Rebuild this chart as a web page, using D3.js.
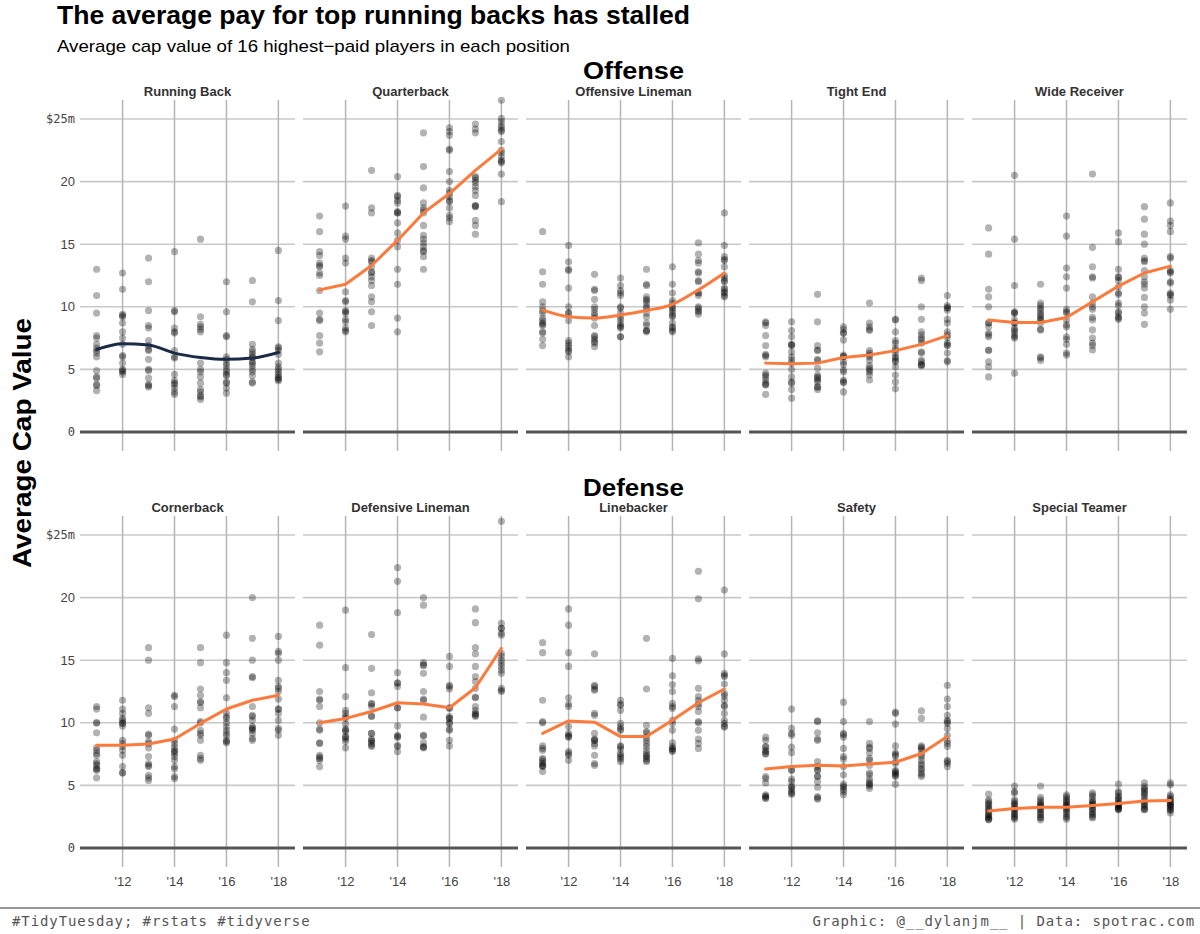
<!DOCTYPE html>
<html>
    <head>
        <title>NFL cap value</title>
        <script src="https://d3js.org/d3.v7.min.js"></script>
        <style>
            body { margin: 0; background: #fff; }
        </style>
    </head>
    <body>
        <div id="chart"></div>

        <script>
            // Data: 16 cap values ($m) per year, 2011-2018
            const years = [2011, 2012, 2013, 2014, 2015, 2016, 2017, 2018];
            const yTicks = [0, 5, 10, 15, 20, 25];
            const xTicks = [2012, 2014, 2016, 2018];
            const offense = ["Running Back", "Quarterback", "Offensive Lineman", "Tight End", "Wide Receiver"];
            const defense = ["Cornerback", "Defensive Lineman", "Linebacker", "Safety", "Special Teamer"];

            const runningBack = [
                [13.0, 10.9, 9.5, 7.7, 7.5, 7.0, 6.7, 6.3, 6.0, 4.9, 4.4, 4.3, 3.8, 3.7, 3.3, 6.5],
                [12.7, 11.4, 9.4, 9.2, 8.7, 8.0, 7.5, 7.0, 6.1, 6.0, 5.5, 5.0, 4.9, 4.6, 4.8, 9.3],
                [13.9, 12.0, 9.7, 8.5, 8.3, 7.3, 6.9, 6.5, 5.8, 5.0, 4.9, 4.3, 3.8, 3.7, 3.6, 6.6],
                [14.4, 9.7, 9.6, 8.3, 8.0, 7.9, 6.5, 6.0, 5.9, 4.6, 4.1, 3.9, 3.8, 3.5, 3.2, 3.0],
                [15.4, 9.2, 8.6, 8.4, 8.2, 8.0, 5.5, 5.0, 4.4, 3.9, 3.4, 3.2, 2.9, 2.8, 2.6, 4.8],
                [12.0, 9.6, 7.7, 7.6, 6.0, 5.8, 5.5, 5.3, 5.0, 4.8, 4.6, 4.5, 4.0, 3.9, 3.5, 3.1],
                [12.1, 10.4, 7.0, 6.6, 6.4, 6.0, 5.6, 5.3, 5.0, 4.8, 4.5, 4.0, 3.9, 5.9, 6.2, 5.5],
                [14.5, 10.5, 8.9, 6.8, 6.7, 6.2, 5.5, 5.2, 5.0, 4.8, 4.6, 4.4, 4.3, 4.2, 4.1, 6.5]
            ];
            const quarterback = [
                [17.25, 16.0, 14.4, 14.1, 13.5, 13.3, 12.7, 12.5, 11.3, 9.5, 9.0, 8.9, 7.7, 7.1, 6.4, 13.2],
                [18.05, 15.65, 15.4, 13.9, 13.5, 11.2, 10.5, 10.4, 9.6, 9.5, 9.0, 8.8, 8.3, 8.0, 8.1, 9.7],
                [20.9, 17.9, 17.5, 13.9, 13.6, 12.8, 12.4, 12.1, 11.7, 10.8, 10.4, 9.6, 8.5, 13.7, 12.7, 13.2],
                [20.4, 18.9, 18.5, 17.6, 17.5, 16.7, 15.9, 14.8, 13.0, 11.8, 9.1, 8.0, 18.3, 18.8, 15.3, 17.5],
                [23.9, 21.2, 19.5, 18.3, 17.7, 16.5, 15.7, 15.4, 15.1, 14.5, 14.0, 13.0, 17.5, 17.9, 14.8, 14.4],
                [24.3, 24.0, 23.7, 22.6, 20.8, 20.0, 19.3, 18.8, 18.4, 17.9, 17.3, 17.1, 16.8, 22.5, 19.1, 18.5],
                [24.6, 24.2, 23.9, 20.4, 20.3, 19.6, 19.3, 18.9, 18.1, 18.0, 16.9, 16.5, 15.8, 20.1, 19.9, 18.05],
                [26.5, 25.05, 24.8, 24.3, 24.0, 23.2, 22.5, 22.0, 21.7, 21.5, 20.6, 18.4, 24.5, 24.1, 22.3, 21.6]
            ];
            const offensiveLineman = [
                [16.0, 12.8, 11.8, 10.4, 10.0, 9.5, 9.1, 8.7, 8.5, 8.0, 7.4, 6.9, 9.7, 8.9, 8.6, 7.9],
                [14.9, 13.6, 12.9, 11.5, 10.0, 9.5, 8.9, 7.3, 6.9, 6.7, 6.4, 6.0, 13.0, 9.5, 7.1, 6.5],
                [12.6, 11.4, 10.6, 10.0, 9.8, 9.3, 8.5, 7.7, 7.4, 7.1, 6.8, 11.3, 9.5, 7.6, 7.2, 9.1],
                [12.3, 11.7, 11.1, 10.0, 9.5, 9.0, 8.5, 8.4, 7.6, 11.3, 10.9, 9.2, 8.7, 8.3, 7.6, 9.9],
                [13.0, 11.8, 11.7, 10.8, 10.5, 9.9, 9.2, 8.7, 8.1, 8.0, 10.3, 9.5, 8.5, 8.1, 10.0, 10.6],
                [13.2, 11.8, 11.1, 10.5, 10.0, 9.7, 9.5, 9.2, 8.7, 8.4, 8.0, 10.3, 9.9, 9.3, 8.3, 8.1],
                [15.1, 14.2, 13.7, 13.5, 12.8, 12.1, 11.1, 10.9, 10.0, 9.7, 9.4, 11.1, 12.0, 9.9, 9.6, 12.7],
                [17.5, 14.9, 14.0, 13.8, 13.2, 12.5, 12.3, 12.0, 11.5, 11.2, 10.9, 10.8, 11.4, 12.1, 13.7, 11.1]
            ];
            const tightEnd = [
                [8.8, 8.5, 7.7, 6.9, 6.1, 6.0, 4.7, 4.4, 3.8, 3.0, 3.9, 8.7, 6.2, 4.55, 4.15, 3.75],
                [8.8, 8.1, 7.6, 7.0, 6.9, 6.4, 6.0, 5.5, 5.0, 4.4, 4.0, 3.9, 3.4, 2.7, 6.95, 5.75],
                [11.0, 8.8, 6.9, 6.5, 5.8, 5.7, 5.1, 4.55, 4.4, 4.0, 3.6, 3.4, 3.6, 4.15, 6.55, 4.3],
                [8.4, 8.2, 7.9, 7.35, 6.15, 6.0, 5.4, 4.95, 4.15, 3.95, 3.2, 6.05, 7.9, 4.0, 4.8, 5.6],
                [10.3, 8.7, 8.4, 8.1, 6.5, 6.3, 6.0, 5.7, 5.3, 4.95, 4.55, 4.15, 6.15, 5.1, 4.8, 8.2],
                [9.0, 8.0, 7.3, 6.7, 6.3, 6.0, 5.7, 5.2, 4.55, 4.0, 3.45, 8.95, 6.55, 5.9, 5.6, 7.1],
                [12.3, 12.1, 10.0, 9.0, 8.0, 7.5, 7.1, 6.4, 5.75, 5.4, 5.35, 5.3, 6.3, 5.6, 7.35, 7.75],
                [10.9, 10.1, 9.95, 9.75, 9.0, 8.0, 7.55, 7.1, 6.9, 6.3, 5.7, 5.6, 9.9, 6.95, 7.75, 8.7]
            ];
            const wideReceiver = [
                [16.3, 14.2, 11.4, 10.8, 10.0, 8.7, 8.4, 7.9, 7.6, 6.5, 5.6, 5.2, 4.4, 7.75, 8.7, 6.55],
                [20.5, 15.4, 11.7, 9.6, 9.5, 8.7, 8.15, 7.6, 4.7, 9.5, 8.3, 7.5, 8.95, 8.7, 8.0, 7.75],
                [11.8, 10.3, 9.9, 9.5, 9.2, 9.0, 8.7, 8.2, 6.0, 5.7, 9.75, 8.95, 9.35, 5.9, 8.15, 10.1],
                [17.25, 15.65, 13.1, 12.4, 11.5, 9.8, 9.5, 8.95, 8.4, 7.6, 7.4, 7.0, 6.3, 6.15, 9.6, 8.55],
                [20.6, 14.75, 13.2, 12.4, 12.3, 10.8, 10.0, 9.8, 9.15, 8.15, 7.5, 7.1, 6.9, 6.55, 8.95, 10.3],
                [15.9, 15.2, 13.0, 12.35, 12.1, 11.6, 11.1, 10.3, 9.6, 9.2, 9.0, 12.4, 11.0, 10.1, 9.1, 9.5],
                [18.0, 17.0, 15.8, 15.0, 13.9, 13.6, 12.9, 12.0, 11.5, 10.75, 10.0, 9.5, 8.6, 13.7, 11.8, 12.4],
                [18.3, 16.85, 16.5, 16.0, 14.0, 13.9, 12.9, 12.7, 12.0, 11.9, 11.1, 10.9, 10.55, 9.8, 12.8, 11.0]
            ];
            const cornerback = [
                [11.3, 11.1, 10.0, 9.2, 8.0, 7.4, 6.9, 6.6, 6.3, 6.2, 5.6, 10.0, 7.55, 6.75, 6.35, 7.8],
                [11.8, 11.1, 10.75, 10.2, 10.0, 9.75, 8.6, 8.1, 7.4, 6.5, 6.0, 6.0, 9.95, 8.35, 7.8, 10.35],
                [16.0, 15.0, 11.2, 10.75, 9.1, 8.5, 8.0, 7.3, 6.6, 6.5, 5.8, 5.4, 5.6, 8.35, 6.75, 9.0],
                [12.2, 11.3, 9.5, 8.6, 8.35, 8.05, 7.55, 7.0, 6.5, 6.3, 5.7, 5.55, 12.1, 7.8, 7.3, 7.7],
                [16.0, 14.8, 12.7, 12.2, 11.7, 11.2, 10.0, 9.4, 9.0, 8.6, 7.4, 7.0, 11.6, 10.1, 9.15, 7.15],
                [17.0, 14.8, 14.0, 13.4, 12.0, 10.8, 10.5, 10.0, 9.7, 9.4, 8.95, 8.6, 8.4, 10.35, 9.15, 8.5],
                [20.0, 16.75, 15.0, 13.7, 13.6, 11.3, 10.6, 10.2, 9.7, 9.5, 9.15, 8.75, 8.6, 9.4, 10.5, 9.6],
                [16.9, 15.7, 15.55, 15.0, 13.4, 12.9, 12.5, 11.9, 11.1, 10.75, 10.2, 9.55, 9.0, 11.1, 9.4, 12.75]
            ];
            const defensiveLineman = [
                [17.8, 16.2, 12.5, 11.9, 11.3, 10.0, 9.5, 8.4, 7.4, 7.15, 7.0, 6.5, 11.8, 8.35, 7.25, 9.4],
                [19.0, 14.4, 12.1, 11.0, 10.75, 10.35, 9.9, 9.5, 9.3, 8.9, 8.7, 8.0, 9.4, 8.85, 8.5, 10.5],
                [17.05, 14.35, 12.4, 11.55, 11.3, 10.55, 9.15, 8.7, 8.6, 8.35, 8.1, 11.5, 10.5, 8.5, 8.2, 9.15],
                [22.4, 21.3, 18.8, 14.0, 13.2, 12.9, 11.2, 9.75, 9.0, 8.85, 8.2, 7.7, 8.9, 11.2, 13.15, 8.1],
                [20.0, 19.4, 14.8, 14.6, 13.95, 12.5, 11.9, 10.45, 9.0, 8.4, 8.05, 8.0, 8.95, 11.8, 14.6, 8.1],
                [15.3, 14.5, 13.0, 12.7, 11.2, 10.5, 10.0, 9.5, 8.6, 8.15, 9.95, 12.9, 10.35, 9.4, 10.35, 11.15],
                [19.1, 18.0, 16.0, 15.5, 14.5, 13.7, 12.75, 12.0, 11.3, 11.0, 10.75, 10.6, 10.5, 13.3, 12.05, 10.7],
                [26.1, 17.95, 17.55, 17.15, 17.0, 15.55, 15.0, 14.5, 13.95, 12.75, 12.5, 17.55, 15.3, 14.75, 14.2, 12.6]
            ];
            const linebacker = [
                [16.4, 15.6, 11.8, 10.0, 8.15, 7.8, 7.15, 6.9, 6.6, 6.5, 6.1, 10.1, 7.95, 7.05, 6.55, 6.75],
                [19.1, 17.8, 15.6, 14.5, 12.0, 11.5, 9.7, 9.0, 8.85, 7.7, 7.4, 7.0, 11.3, 7.55, 8.9, 9.15],
                [15.5, 13.0, 12.7, 10.75, 10.6, 9.15, 8.7, 8.6, 8.15, 7.4, 6.75, 6.6, 12.9, 8.6, 8.35, 12.6],
                [11.8, 11.5, 11.0, 9.7, 9.5, 8.15, 7.9, 7.4, 7.25, 6.9, 9.95, 7.55, 7.1, 9.4, 8.1, 11.4],
                [16.75, 12.7, 9.8, 9.2, 8.85, 8.6, 8.1, 7.8, 7.55, 7.3, 7.0, 6.9, 8.35, 7.4, 7.15, 9.3],
                [15.15, 13.75, 13.05, 12.5, 11.55, 11.15, 10.2, 9.95, 8.4, 8.1, 7.9, 7.8, 11.3, 9.4, 7.95, 7.7],
                [22.1, 19.9, 15.1, 14.95, 12.75, 12.1, 11.5, 10.9, 10.1, 9.4, 8.7, 7.95, 10.0, 11.8, 11.3, 8.35],
                [20.6, 15.5, 13.95, 13.7, 13.1, 12.35, 12.15, 11.4, 10.75, 10.2, 9.75, 9.65, 13.8, 11.8, 11.3, 9.95]
            ];
            const safety = [
                [8.85, 8.1, 7.7, 7.5, 5.7, 5.2, 4.25, 3.95, 4.1, 7.8, 7.55, 8.6, 5.55, 4.15, 8.05, 4.0],
                [11.1, 9.55, 9.0, 8.05, 7.6, 6.25, 5.5, 4.95, 4.7, 4.3, 4.5, 9.15, 6.2, 5.3, 4.85, 4.35],
                [10.15, 9.2, 8.7, 6.9, 6.2, 5.75, 5.3, 4.85, 4.1, 3.9, 10.1, 8.6, 5.7, 4.0, 6.5, 6.25],
                [11.65, 10.1, 9.15, 8.85, 7.95, 7.3, 7.1, 6.5, 5.85, 5.1, 4.85, 4.5, 4.25, 4.95, 4.65, 9.05],
                [10.1, 8.35, 8.05, 7.6, 7.15, 6.6, 6.0, 5.5, 5.15, 4.95, 4.75, 7.95, 7.0, 5.85, 5.3, 5.05],
                [10.85, 9.9, 8.15, 7.6, 7.35, 6.9, 6.2, 6.0, 5.9, 5.7, 5.1, 10.75, 7.45, 6.1, 5.8, 6.75],
                [10.95, 10.35, 8.15, 8.05, 7.8, 7.45, 7.0, 6.6, 6.35, 6.0, 5.7, 7.95, 7.3, 6.75, 6.25, 5.85],
                [13.0, 11.9, 11.3, 10.6, 10.2, 9.95, 9.55, 9.0, 8.35, 8.1, 7.0, 6.75, 6.5, 10.1, 8.55, 6.9]
            ];
            const specialTeamer = [
                [4.3, 3.7, 3.45, 3.15, 2.9, 2.65, 2.45, 2.25, 3.55, 3.3, 3.05, 2.75, 2.55, 2.35, 3.85, 2.3],
                [4.95, 4.5, 3.85, 3.55, 3.35, 3.05, 2.75, 2.5, 2.3, 3.7, 3.45, 3.15, 2.9, 2.65, 2.4, 4.4],
                [4.95, 4.05, 3.7, 3.45, 3.15, 2.9, 2.65, 2.45, 2.25, 3.85, 3.55, 3.3, 3.05, 2.75, 2.4, 3.35],
                [4.25, 3.95, 3.8, 3.55, 3.35, 3.15, 2.9, 2.55, 2.3, 4.1, 3.7, 3.45, 3.3, 3.05, 2.75, 2.45],
                [4.4, 4.1, 3.85, 3.6, 3.45, 3.15, 2.9, 2.65, 2.4, 4.25, 3.7, 3.5, 3.3, 3.05, 2.75, 2.5],
                [5.1, 4.5, 4.15, 3.9, 3.6, 3.45, 3.3, 3.15, 3.05, 4.4, 4.05, 3.8, 3.55, 3.35, 3.2, 3.1],
                [5.2, 4.9, 4.65, 4.35, 4.05, 3.85, 3.55, 3.35, 3.15, 3.05, 4.75, 4.5, 4.25, 3.7, 3.45, 3.1],
                [5.2, 5.05, 4.25, 3.95, 3.7, 3.5, 3.35, 3.15, 3.0, 2.8, 4.1, 3.85, 3.6, 3.45, 3.3, 3.05]
            ];

            // yearly average line per position
            const avgRunningBack = [6.6, 7.05, 6.95, 6.3, 5.95, 5.8, 5.9, 6.35];
            const avgQuarterback = [11.35, 11.8, 13.3, 15.3, 17.5, 19.05, 20.9, 22.6];
            const avgOffensiveLineman = [9.75, 9.2, 9.1, 9.35, 9.7, 10.2, 11.35, 12.7];
            const avgTightEnd = [5.5, 5.45, 5.5, 5.95, 6.15, 6.5, 7.0, 7.7];
            const avgWideReceiver = [8.95, 8.75, 8.75, 9.15, 10.4, 11.65, 12.7, 13.25];
            const avgCornerback = [8.2, 8.2, 8.3, 8.7, 9.95, 11.1, 11.8, 12.2];
            const avgDefensiveLineman = [10.0, 10.35, 10.9, 11.6, 11.5, 11.2, 12.8, 15.95];
            const avgLinebacker = [9.15, 10.15, 10.05, 8.9, 8.9, 10.2, 11.6, 12.7];
            const avgSafety = [6.3, 6.5, 6.6, 6.55, 6.7, 6.85, 7.55, 8.9];
            const avgSpecialTeamer = [2.95, 3.15, 3.25, 3.25, 3.4, 3.55, 3.75, 3.8];

            const values = {
                "Running Back": runningBack, "Quarterback": quarterback,
                "Offensive Lineman": offensiveLineman, "Tight End": tightEnd,
                "Wide Receiver": wideReceiver, "Cornerback": cornerback,
                "Defensive Lineman": defensiveLineman, "Linebacker": linebacker,
                "Safety": safety, "Special Teamer": specialTeamer
            };
            const averages = {
                "Running Back": avgRunningBack, "Quarterback": avgQuarterback,
                "Offensive Lineman": avgOffensiveLineman, "Tight End": avgTightEnd,
                "Wide Receiver": avgWideReceiver, "Cornerback": avgCornerback,
                "Defensive Lineman": avgDefensiveLineman, "Linebacker": avgLinebacker,
                "Safety": avgSafety, "Special Teamer": avgSpecialTeamer
            };

            // Layout
            const width = 1200, height = 934;
            const panelW = 215, panelStep = 223, panelLeft = 80, panelH = 351;
            const rowTops = [100, 516];
            const mono = "'DejaVu Sans Mono', monospace";
            const sans = "'Liberation Sans', Arial, sans-serif";

            const svg = d3.select("#chart").append("svg")
                          .attr("width", width)
                          .attr("height", height);

            svg.append("text")
               .attr("x", 57).attr("y", 24)
               .attr("textLength", 633).attr("lengthAdjust", "spacingAndGlyphs")
               .style("font-family", sans).style("font-weight", "bold")
               .style("font-size", "25px").attr("fill", "#000")
               .text("The average pay for top running backs has stalled");
            svg.append("text")
               .attr("x", 57).attr("y", 52)
               .attr("textLength", 513).attr("lengthAdjust", "spacingAndGlyphs")
               .style("font-family", sans).style("font-size", "17px").attr("fill", "#000")
               .text("Average cap value of 16 highest\u2212paid players in each position");

            svg.append("text")
               .attr("transform", "translate(31,443) rotate(-90)")
               .attr("text-anchor", "middle")
               .attr("textLength", 250).attr("lengthAdjust", "spacingAndGlyphs")
               .style("font-family", sans).style("font-weight", "bold")
               .style("font-size", "25px").attr("fill", "#000")
               .text("Average Cap Value");

            const groupTitles = ["Offense", "Defense"];
            const groupBaselines = [79, 496];
            groupTitles.forEach((t, i) => {
                svg.append("text")
                   .attr("x", panelLeft + (4 * panelStep + panelW) / 2)
                   .attr("y", groupBaselines[i])
                   .attr("text-anchor", "middle")
                   .attr("textLength", 101).attr("lengthAdjust", "spacingAndGlyphs")
                   .style("font-family", sans).style("font-weight", "bold")
                   .style("font-size", "23px")
                   .attr("fill", "#000")
                   .text(t);
            });

            [offense, defense].forEach((row, r) => {
                const top = rowTops[r];
                const y = d3.scaleLinear().domain([-1.52, 26.52]).range([top + panelH, top]);

                row.forEach((pos, c) => {
                    const x0 = panelLeft + c * panelStep;
                    const x = d3.scaleLinear().domain([2010.36, 2018.64]).range([x0, x0 + panelW]);
                    const g = svg.append("g");

                    // strip label
                    g.append("text")
                     .attr("x", x0 + panelW / 2).attr("y", top - 4)
                     .attr("text-anchor", "middle")
                     .style("font-family", sans).style("font-weight", "bold")
                     .style("font-size", "13px").attr("fill", "#333")
                     .text(pos);

                    // horizontal grid
                    g.selectAll(".hgrid")
                     .data(yTicks.filter(d => d > 0))
                     .enter().append("line")
                     .attr("x1", x0).attr("x2", x0 + panelW)
                     .attr("y1", d => y(d)).attr("y2", d => y(d))
                     .attr("stroke", "#c9c9c9").attr("stroke-width", 1.6);

                    // vertical grid
                    g.selectAll(".vgrid")
                     .data(xTicks)
                     .enter().append("line")
                     .attr("x1", d => x(d)).attr("x2", d => x(d))
                     .attr("y1", top).attr("y2", top + panelH)
                     .attr("stroke", "#b5b5b5").attr("stroke-width", 1.5);

                    // zero line
                    g.append("line")
                     .attr("x1", x0).attr("x2", x0 + panelW)
                     .attr("y1", y(0)).attr("y2", y(0))
                     .attr("stroke", "#555").attr("stroke-width", 3);

                    // points
                    const pts = [];
                    values[pos].forEach((vals, i) => vals.forEach(v => pts.push({ year: years[i], v: v })));
                    g.selectAll("circle")
                     .data(pts)
                     .enter().append("circle")
                     .attr("cx", d => x(d.year))
                     .attr("cy", d => y(d.v))
                     .attr("r", 3.6)
                     .attr("fill", "#000")
                     .attr("fill-opacity", 0.3);

                    // average line
                    const isRB = pos === "Running Back";
                    const line = d3.line()
                                   .x((d, i) => x(years[i]))
                                   .y(d => y(d))
                                   .curve(isRB || pos === "Offensive Lineman" ? d3.curveMonotoneX : d3.curveLinear);
                    g.append("path")
                     .attr("d", line(averages[pos]))
                     .attr("fill", "none")
                     .attr("stroke", isRB ? "#1b2a47" : "#fb7a3c")
                     .attr("stroke-width", 3)
                     .attr("stroke-linejoin", "round")
                     .attr("stroke-linecap", "round");

                    // y axis labels on first column
                    if (c === 0) {
                        const ay = g.append("g")
                                    .attr("transform", `translate(${x0 - 1},0)`)
                                    .call(d3.axisLeft(y).tickValues(yTicks).tickSize(0).tickPadding(4)
                                            .tickFormat(d => d === 25 ? "$25m" : d));
                        ay.select(".domain").remove();
                        ay.selectAll("text")
                          .attr("fill", "#444")
                          .style("font-family", d => (d === 25 || d === 0) ? mono : sans)
                          .style("font-size", d => (d === 25 || d === 0) ? "12px" : "13px");
                    }

                    // x axis labels on bottom row
                    if (r === 1) {
                        const ax = g.append("g")
                                    .attr("transform", `translate(0,${top + panelH + 6})`)
                                    .call(d3.axisBottom(x).tickValues(xTicks).tickSize(0).tickPadding(4)
                                            .tickFormat(d => "'" + String(d).slice(2)));
                        ax.select(".domain").remove();
                        ax.selectAll("text")
                          .attr("fill", "#444")
                          .style("font-family", sans)
                          .style("font-size", "13px");
                    }
                });
            });

            // caption bar
            svg.append("line")
               .attr("x1", 0).attr("x2", width)
               .attr("y1", 908).attr("y2", 908)
               .attr("stroke", "#333").attr("stroke-width", 1);
            svg.append("text")
               .attr("x", 12).attr("y", 926)
               .style("font-family", mono).style("font-size", "14px")
               .style("letter-spacing", "0.9px").attr("fill", "#555")
               .text("#TidyTuesday; #rstats #tidyverse");
            svg.append("text")
               .attr("x", 1195).attr("y", 926)
               .attr("text-anchor", "end")
               .style("font-family", mono).style("font-size", "14px")
               .style("letter-spacing", "0.9px").attr("fill", "#555")
               .text("Graphic: @__dylanjm__ | Data: spotrac.com");
        </script>
    </body>
</html>
